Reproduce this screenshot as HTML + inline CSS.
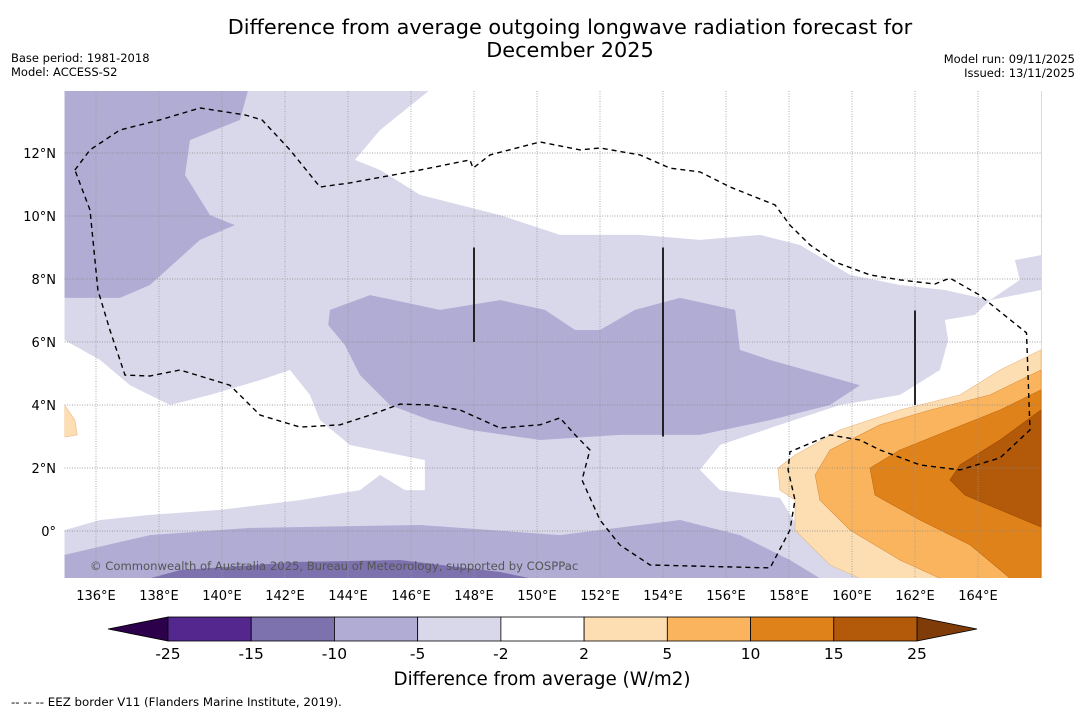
<!DOCTYPE html>
<html><head><meta charset="utf-8">
<style>
body{margin:0;background:#fff;width:1085px;height:713px;overflow:hidden;font-family:"DejaVu Sans","Liberation Sans",sans-serif;}
svg{position:absolute;left:0;top:0}
</style></head>
<body>
<svg id="chart" width="1085" height="713" viewBox="0 0 1085 713" xmlns="http://www.w3.org/2000/svg" font-family="DejaVu Sans, Liberation Sans, sans-serif">
<text x="570" y="34" font-size="20.8" text-anchor="middle">Difference from average outgoing longwave radiation forecast for</text>
<text x="570" y="57" font-size="20.8" text-anchor="middle">December 2025</text>
<text x="11" y="62" font-size="11.5">Base period: 1981-2018</text>
<text x="11" y="76" font-size="11.5">Model: ACCESS-S2</text>
<text x="1075" y="63" font-size="11.5" text-anchor="end">Model run: 09/11/2025</text>
<text x="1075" y="77" font-size="11.5" text-anchor="end">Issued: 13/11/2025</text>
<defs><clipPath id="mapclip"><rect x="64.5" y="91" width="977.5" height="487"/></clipPath></defs>
<g id="map" clip-path="url(#mapclip)"></g>
<g id="axes"></g>
<g id="cbar"></g>
<text x="542" y="685" font-size="18.3" text-anchor="middle">Difference from average (W/m2)</text>
<text x="11" y="706" font-size="11.8">--  --  -- EEZ border V11 (Flanders Marine Institute, 2019).</text>
</svg>
<script>
const lonTicks=[136,138,140,142,144,146,148,150,152,154,156,158,160,162,164];
const latTicks=[0,2,4,6,8,10,12];
const cbarLevels=[-25,-15,-10,-5,-2,2,5,10,15,25];
const cbarColors=["#54278f","#7d72ad","#b0acd4","#d8d8ea","#ffffff","#fddeb2","#fbb45e","#e0821a","#b3590a"];
const whiteTopRight=[[146.6,14],[166,14],[166,8.76],[165.17,8.6],[165.33,7.97],[164.38,7.33],[162.95,7.65],[161.52,7.81],[159.94,8.13],[158.35,9.08],[157.08,9.4],[155.17,9.24],[153.27,9.4],[150.73,9.4],[148.83,10.03],[146.29,10.67],[145.02,11.46],[144.22,11.78],[145.02,12.73]];
const whiteRight=[[166,7.65],[164.38,7.33],[163.9,6.86],[162.95,6.7],[163.05,6.06],[162.79,5.11],[161.52,4.32],[159.62,4.0],[157.71,3.37],[155.81,2.73],[155.17,1.94],[155.81,1.3],[157.71,1.05],[158.35,0.03],[159.3,-1.08],[160.25,-1.5],[166,-1.5]];
const whiteLeft=[[135,6.06],[136.13,5.43],[137.08,4.63],[138.35,4.0],[139.62,4.32],[141.21,4.79],[142.16,5.11],[142.79,4.32],[143.11,3.52],[144.06,2.73],[145.65,2.41],[146.44,2.25],[146.44,1.3],[145.81,1.3],[145.02,1.78],[144.38,1.3],[143.43,1.14],[142.48,0.98],[139.94,0.67],[137.71,0.51],[136.13,0.35],[135,0.03]];
const purpleNW=[[135,14],[140.83,14],[140.57,13.05],[138.98,12.41],[138.83,11.3],[139.62,10.03],[140.41,9.71],[139.3,9.24],[137.71,7.81],[136.76,7.4],[135,7.4]];
const purpleMid=[[143.43,7.02],[144.7,7.49],[146.92,7.02],[148.83,7.33],[150.25,7.02],[151.21,6.38],[152,6.38],[153.11,7.02],[154.54,7.4],[156.29,7.02],[156.44,5.75],[157.4,5.43],[160.25,4.63],[159.3,4.0],[157.4,3.52],[155.17,3.05],[152.63,3.05],[150.1,2.89],[147.87,3.21],[146.6,3.52],[145.33,4.0],[144.38,4.95],[143.9,5.9],[143.37,6.54]];
const purpleSouth=[[135,-1.5],[135,-0.76],[137.71,-0.13],[140.89,0.1],[146.29,0.19],[150.73,-0.13],[153.27,0.19],[154.54,0.35],[156.44,-0.13],[158.03,-0.92],[158.98,-1.5]];
const purpleDeepSouth=[[137.71,-1.5],[138.67,-1.24],[142.48,-0.98],[145.65,-0.92],[148.83,-1.3],[149.78,-1.5]];
const orange2=[[166,5.75],[164.7,5.11],[163.43,4.32],[161.52,3.84],[159.62,3.21],[158.19,2.41],[157.65,2.0],[157.71,1.3],[158.19,0.98],[158.19,0.03],[159.3,-1.08],[160.25,-1.5],[166,-1.5]];
const orange2West=[[135,4.0],[135.33,3.52],[135.4,3.05],[135,2.98]];
const orange5=[[166,5.11],[164.38,4.32],[162.48,3.84],[160.89,3.37],[159.3,2.57],[158.83,1.78],[158.98,0.98],[159.94,0.03],[161.52,-0.92],[162.79,-1.5],[166,-1.5]];
const orange10=[[166,4.48],[164.7,3.84],[163.11,3.21],[161.52,2.57],[160.57,2.0],[160.73,1.14],[162.16,0.35],[163.75,-0.44],[165.02,-1.5],[166,-1.5]];
const orange15=[[166,3.84],[164.7,2.89],[163.43,2.1],[163.11,1.62],[163.59,1.14],[164.7,0.67],[166,0.13]];
const eez=[[135.33,11.46],[135.81,12.1],[136.76,12.73],[138.03,13.05],[139.3,13.43],[140.73,13.21],[141.27,13.05],[142.16,12.1],[143.11,10.92],[144.06,11.05],[146.29,11.46],[147.87,11.78],[147.97,11.52],[148.51,11.94],[150.1,12.35],[151.37,12.1],[152,12.16],[153.27,11.94],[154.22,11.52],[155.17,11.4],[156.13,10.92],[157.56,10.35],[158.03,9.71],[158.67,9.08],[159.46,8.54],[160.57,8.13],[161.52,7.97],[162.63,7.84],[163.11,8.03],[164.05,7.49],[165.54,6.29],[165.65,3.21],[164.7,2.32],[163.43,1.94],[162.16,2.1],[160.89,2.57],[160.25,2.89],[159.3,3.05],[158.03,2.51],[157.97,1.94],[158.19,0.98],[158.03,0.03],[157.4,-1.17],[153.59,-1.08],[152.63,-0.44],[152,0.35],[151.43,1.62],[151.68,2.57],[151.21,3.05],[150.73,3.59],[150.1,3.37],[148.83,3.27],[147.56,3.84],[146.6,4.0],[145.65,4.03],[144.7,3.68],[143.75,3.37],[142.48,3.3],[141.21,3.68],[140.25,4.63],[138.67,5.11],[137.71,4.92],[136.92,4.95],[136.44,6.38],[136.06,7.65],[135.81,10.19],[135.33,11.46]];
const boundaryLines=[[148,9,6],[154,9,3],[162,7,4]];

const NS="http://www.w3.org/2000/svg";
const X=lon=>64.5+(lon-135)*31.5;
const Y=lat=>531-lat*31.5;
function mk(tag,attrs,parent){const e=document.createElementNS(NS,tag);for(const k in attrs)e.setAttribute(k,attrs[k]);parent.appendChild(e);return e;}
const map=document.getElementById('map');
const axes=document.getElementById('axes');
const cbar=document.getElementById('cbar');
function poly(pts,fill,name,stroke){
  const e=mk('polygon',{points:pts.map(p=>X(p[0]).toFixed(1)+','+Y(p[1]).toFixed(1)).join(' '),fill:fill,stroke:stroke||'none','stroke-width':0.6},map);
  
  
}
const bg=mk('rect',{x:64.5,y:91,width:977.5,height:487,fill:'#d8d8ea'},map);


poly(whiteTopRight,'#ffffff','neutral-region-north');
poly(whiteRight,'#ffffff','neutral-region-east');
poly(whiteLeft,'#ffffff','neutral-region-west');
poly(purpleNW,'#b0acd4','anomaly-minus10-northwest');
poly(purpleMid,'#b0acd4','anomaly-minus10-central');
poly(purpleSouth,'#b0acd4','anomaly-minus10-south');
poly(purpleDeepSouth,'#7d72ad','anomaly-minus15-south');
poly(orange2,'#fddeb2','anomaly-plus2-east','#e8b880');
poly(orange2West,'#fddeb2','anomaly-plus2-west','#e8b880');
poly(orange5,'#fbb45e','anomaly-plus5-east','#d99040');
poly(orange10,'#e0821a','anomaly-plus10-east','#c06a10');
poly(orange15,'#b3590a','anomaly-plus15-east','#9a4a06');
lonTicks.forEach(l=>{const e=mk('line',{x1:X(l),x2:X(l),y1:91,y2:578,stroke:'#999','stroke-width':0.8,'stroke-dasharray':'1 1.5'},map);

});
latTicks.forEach(l=>{const e=mk('line',{x1:64.5,x2:1042,y1:Y(l),y2:Y(l),stroke:'#888','stroke-width':0.8,'stroke-dasharray':'1 1.5'},map);

});
boundaryLines.forEach(b=>{const e=mk('line',{x1:X(b[0]),x2:X(b[0]),y1:Y(b[1]),y2:Y(b[2]),stroke:'#111','stroke-width':1.8},map);

});
const ez=mk('polyline',{points:eez.map(p=>X(p[0]).toFixed(1)+','+Y(p[1]).toFixed(1)).join(' '),fill:'none',stroke:'#000','stroke-width':1.4,'stroke-dasharray':'5 4'},map);


const cp=mk('text',{x:90,y:570,'font-size':11.6,fill:'#555'},map);
cp.textContent='© Commonwealth of Australia 2025, Bureau of Meteorology, supported by COSPPac';


lonTicks.forEach(l=>{const t=mk('text',{x:X(l),y:600,'font-size':13,'text-anchor':'middle'},axes);t.textContent=l+'°E';

});
latTicks.forEach(l=>{const t=mk('text',{x:56,y:Y(l)+5,'font-size':13,'text-anchor':'end'},axes);t.textContent=l===0?'0°':l+'°N';

});
const c0=168,c1=917,cy=617,ch=24,bw=(c1-c0)/cbarColors.length;
const lt=mk('polygon',{points:`108,${cy+ch/2} ${c0},${cy} ${c0},${cy+ch}`,fill:'#2d004b',stroke:'#000','stroke-width':0.8},cbar);


const rt=mk('polygon',{points:`977,${cy+ch/2} ${c1},${cy} ${c1},${cy+ch}`,fill:'#7f3b08',stroke:'#000','stroke-width':0.8},cbar);


cbarColors.forEach((c,i)=>{const r=mk('rect',{x:c0+i*bw,y:cy,width:bw,height:ch,fill:c,stroke:'#000','stroke-width':0.8},cbar);

});
cbarLevels.forEach((v,i)=>{const t=mk('text',{x:c0+i*bw,y:659,'font-size':15.5,'text-anchor':'middle'},cbar);t.textContent=v;

});
</script>
</body></html>
